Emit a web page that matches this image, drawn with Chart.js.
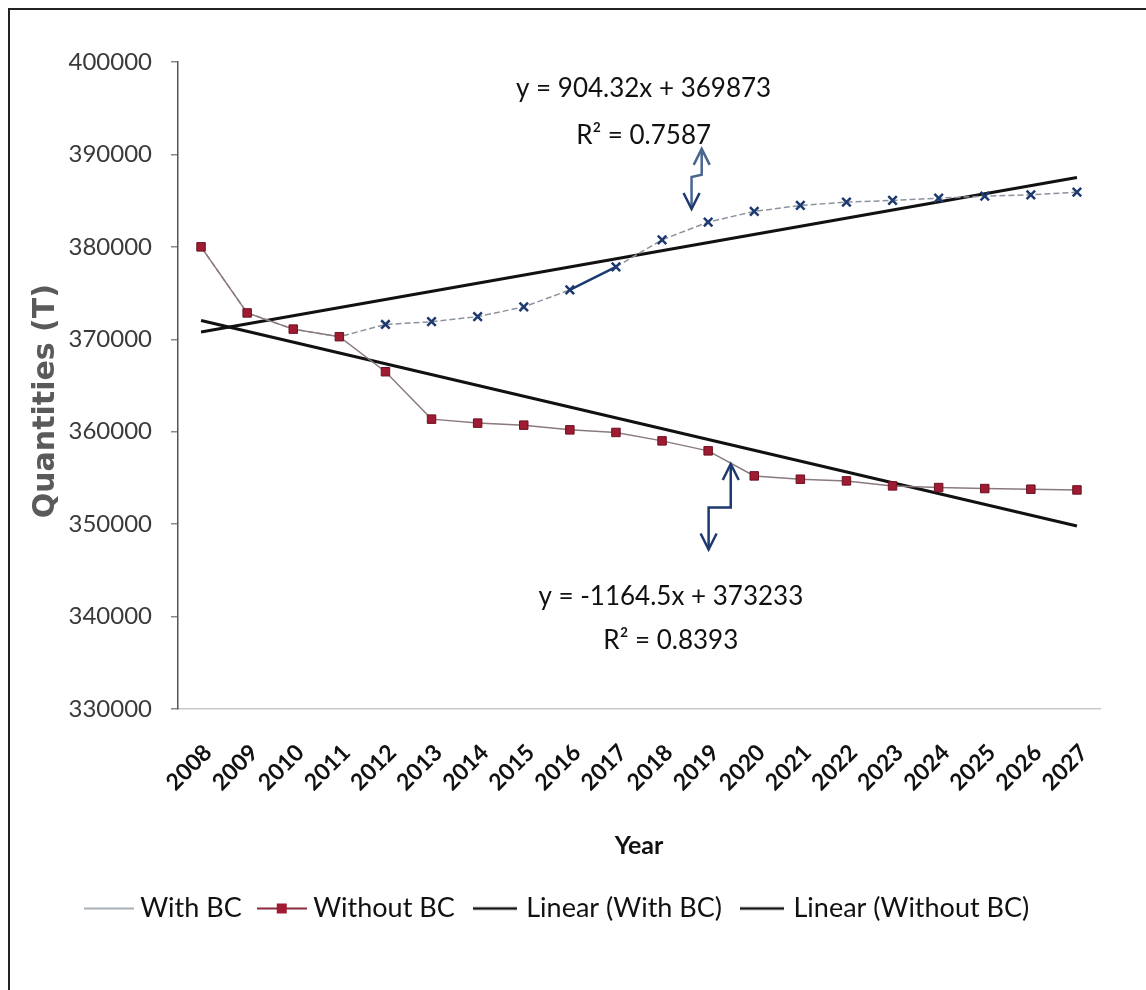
<!DOCTYPE html>
<html lang="en">
<head>
    <meta charset="UTF-8">
    <title>Quantities with and without BC</title>
    <script src="https://cdn.jsdelivr.net/npm/chart.js"></script>
    <style>
        html, body { margin: 0; padding: 0; background: #fff; }
        #wrap { position: relative; width: 1146px; height: 990px; }
        #frame { position: absolute; left: 8px; top: 8px; right: -4px; bottom: -4px;
                 border-left: 2px solid #222; border-top: 2px solid #222; pointer-events: none; }
    </style>
</head>
<body>
    <div id="wrap">
        <canvas id="chart" width="1146" height="990"></canvas>
        <div id="frame"></div>
    </div>

    <script>
        var years = ['2008', '2009', '2010', '2011', '2012', '2013', '2014', '2015', '2016', '2017',
                     '2018', '2019', '2020', '2021', '2022', '2023', '2024', '2025', '2026', '2027'];

        // values (tonnes)
        var withBC = [380000, 372850, 371100, 370280, 371600, 371900, 372450, 373500, 375340, 377830,
                      380760, 382680, 383830, 384480, 384840, 385020, 385270, 385490, 385630, 385920];
        var withoutBC = [380000, 372850, 371100, 370280, 366490, 361360, 360930, 360710, 360200, 359920,
                         359010, 357930, 355220, 354860, 354680, 354140, 353960, 353850, 353780, 353700];

        // trend line end points (2008, 2027)
        var trendWithBC = [370790, 387500];
        var trendWithoutBC = [372030, 349800];

        var yTicks = [330000, 340000, 350000, 360000, 370000, 380000, 390000, 400000];

        var sans = "Lato, 'Liberation Sans', sans-serif";
        var navy = '#1d3a70';

        // small pictures used as legend keys
        function legendIcon(w, color, lw, marker) {
            var c = document.createElement('canvas');
            c.width = w; c.height = 14;
            var g = c.getContext('2d');
            g.strokeStyle = color;
            g.lineWidth = lw;
            g.beginPath(); g.moveTo(0, 7); g.lineTo(w, 7); g.stroke();
            if (marker) {
                g.fillStyle = '#9e1b32';
                g.fillRect(w / 2 - 5, 2, 10, 10);
            }
            return c;
        }

        // equation labels and arrows, placed in data units
        var notes = [
            { x: 9.6, y: 397100, text: 'y = 904.32x + 369873' },
            { x: 9.6, y: 392050, text: 'R² = 0.7587' },
            { x: 10.19, y: 342150, text: 'y = -1164.5x + 373233' },
            { x: 10.19, y: 337350, text: 'R² = 0.8393' }
        ];
        var arrows = [
            { up: [10.86, 387800, 390600], down: [10.64, 387550, 384100], color: '#4a6590' },
            { up: [11.49, 351800, 356500], down: [11.01, 351800, 347250], color: navy }
        ];

        function arrowHead(g, x, y, dir) {
            g.beginPath();
            g.moveTo(x - 8, y - dir * 16);
            g.lineTo(x, y);
            g.lineTo(x + 8, y - dir * 16);
            g.stroke();
        }

        var notesPlugin = {
            id: 'notes',
            afterDatasetsDraw: function (chart) {
                var g = chart.ctx, xs = chart.scales.x, ys = chart.scales.y;
                g.save();
                g.font = '26px ' + sans;
                g.fillStyle = '#111';
                g.textAlign = 'center';
                g.textBaseline = 'middle';
                notes.forEach(function (n) {
                    g.fillText(n.text, xs.getPixelForValue(n.x), ys.getPixelForValue(n.y));
                });
                g.lineWidth = 2.5;
                arrows.forEach(function (a) {
                    var ux = xs.getPixelForValue(a.up[0]), uy0 = ys.getPixelForValue(a.up[1]), uy1 = ys.getPixelForValue(a.up[2]);
                    var dx = xs.getPixelForValue(a.down[0]), dy0 = ys.getPixelForValue(a.down[1]), dy1 = ys.getPixelForValue(a.down[2]);
                    g.strokeStyle = a.color;
                    g.beginPath();
                    g.moveTo(ux, uy1); g.lineTo(ux, uy0); g.lineTo(dx, dy0); g.lineTo(dx, dy1);
                    g.stroke();
                    arrowHead(g, ux, uy1, -1);
                    g.strokeStyle = navy;
                    arrowHead(g, dx, dy1, 1);
                });
                g.restore();
            }
        };

        var ctx = document.getElementById('chart').getContext('2d');
        var chart = new Chart(ctx, {
            type: 'line',
            data: {
                labels: years,
                datasets: [{
                    label: 'With BC',
                    data: withBC,
                    order: 2,
                    borderColor: '#8d939c',
                    borderWidth: 1.5,
                    borderDash: [6, 3],
                    pointStyle: 'crossRot',
                    pointRadius: function (c) { return c.dataIndex < 4 ? 0 : 6; },
                    pointBorderColor: navy,
                    pointBorderWidth: 2.5,
                    segment: {
                        borderColor: function (c) { return c.p0DataIndex === 8 ? navy : undefined; },
                        borderDash: function (c) { return c.p0DataIndex === 8 ? [] : undefined; },
                        borderWidth: function (c) { return c.p0DataIndex === 8 ? 2.5 : undefined; }
                    },
                    tension: 0,
                    fill: false
                }, {
                    label: 'Without BC',
                    data: withoutBC,
                    order: 1,
                    borderColor: '#8a7a80',
                    borderWidth: 1.5,
                    pointStyle: 'rect',
                    pointRadius: 6,
                    pointBackgroundColor: '#9e1b32',
                    pointBorderColor: '#6d1222',
                    pointBorderWidth: 1,
                    tension: 0,
                    fill: false
                }, {
                    label: 'Linear (With BC)',
                    data: [{ x: years[0], y: trendWithBC[0] }, { x: years[years.length - 1], y: trendWithBC[1] }],
                    order: 3,
                    borderColor: '#111',
                    borderWidth: 3,
                    pointRadius: 0,
                    fill: false
                }, {
                    label: 'Linear (Without BC)',
                    data: [{ x: years[0], y: trendWithoutBC[0] }, { x: years[years.length - 1], y: trendWithoutBC[1] }],
                    order: 3,
                    borderColor: '#111',
                    borderWidth: 3,
                    pointRadius: 0,
                    fill: false
                }]
            },
            options: {
                responsive: false,
                animation: false,
                layout: { padding: { left: 20, right: 46, top: 62, bottom: 58 } },
                plugins: {
                    tooltip: { enabled: false },
                    legend: {
                        position: 'bottom',
                        labels: {
                            usePointStyle: true,
                            pointStyleWidth: 36,
                            padding: 22,
                            color: '#111',
                            font: { family: sans, size: 27 },
                            sort: function (a, b) { return a.datasetIndex - b.datasetIndex; },
                            generateLabels: function (ch) {
                                var icons = [
                                    legendIcon(50, '#8d939c', 1.5, false),
                                    legendIcon(50, '#8a2a3a', 2, true),
                                    legendIcon(44, '#111', 2.5, false),
                                    legendIcon(44, '#111', 2.5, false)
                                ];
                                return ch.data.datasets.map(function (d, i) {
                                    return { text: d.label, datasetIndex: i, pointStyle: icons[i],
                                             fontColor: '#111', hidden: false, lineWidth: 0 };
                                });
                            }
                        }
                    }
                },
                scales: {
                    x: {
                        offset: true,
                        grid: { display: false, drawTicks: false },
                        border: { display: true, color: '#c9c9c9', width: 1.5 },
                        ticks: {
                            minRotation: 45, maxRotation: 45, autoSkip: false, padding: 30, labelOffset: 7,
                            color: '#111', font: { family: sans, size: 23, weight: 'bold' }
                        },
                        title: {
                            display: true, text: 'Year', color: '#111',
                            font: { family: sans, size: 25, weight: 'bold' },
                            padding: { top: 0, bottom: 12 }
                        },
                        afterFit: function (s) { s.height = 164; }
                    },
                    y: {
                        min: 330000,
                        max: 400000,
                        afterBuildTicks: function (s) { s.ticks = yTicks.map(function (v) { return { value: v }; }); },
                        grid: { drawOnChartArea: false, drawTicks: true, tickLength: 7, color: '#888', lineWidth: 1.5 },
                        border: { display: true, color: '#555', width: 1.5 },
                        ticks: {
                            padding: 19, color: '#3a3a3a',
                            font: { family: sans, size: 24 },
                            callback: function (v) { return String(v); }
                        },
                        title: {
                            display: true, text: 'Quantities (T)   ', color: '#5a5a5a',
                            font: { family: "'DejaVu Sans', sans-serif", size: 30, weight: 'bold' },
                            padding: { top: 8, bottom: 0 }
                        },
                        afterFit: function (s) { s.width = 158; }
                    }
                }
            },
            plugins: [notesPlugin]
        });
    </script>
</body>
</html>
